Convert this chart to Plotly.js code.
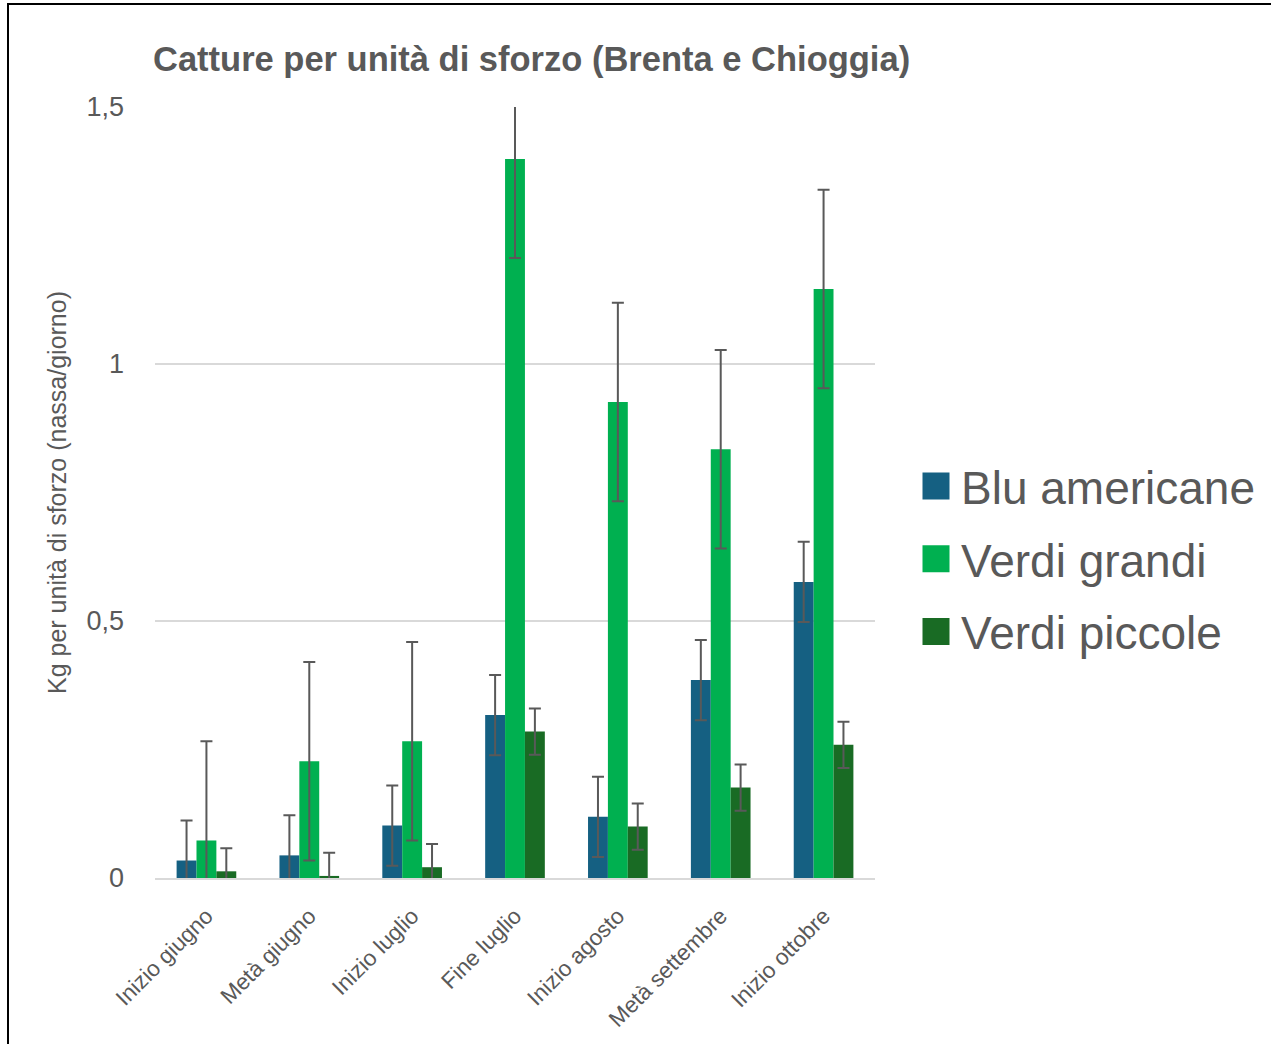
<!DOCTYPE html>
<html>
<head>
<meta charset="utf-8">
<script src="https://cdn.plot.ly/plotly-3.0.1.min.js"></script>
<style>
  html, body { margin: 0; padding: 0; background: #ffffff; overflow: hidden; }
  #frame { position: absolute; left: 7px; top: 3px; width: 1300px; height: 1100px; border: 2px solid #000; box-sizing: border-box; pointer-events: none; z-index: 5; }
  #chart { position: absolute; left: 0; top: 0; width: 1271px; height: 1044px; }
</style>
</head>
<body>
<div id="chart"></div>
<div id="frame"></div>
<script>
const categories = ["Inizio giugno", "Metà giugno", "Inizio luglio", "Fine luglio", "Inizio agosto", "Metà settembre", "Inizio ottobre"];

const seriesNames = ["Blu americane", "Verdi grandi", "Verdi piccole"];

const bluAmericane = [0.034, 0.044, 0.102, 0.317, 0.119, 0.385, 0.576];
const bluErr       = [0.078, 0.078, 0.078, 0.078, 0.078, 0.078, 0.078];

const verdiGrandi  = [0.073, 0.227, 0.266, 1.399, 0.926, 0.834, 1.146];
const grandiErr    = [0.193, 0.193, 0.193, 0.193, 0.193, 0.193, 0.193];

const verdiPiccole = [0.013, 0.004, 0.021, 0.285, 0.100, 0.176, 0.259];
const piccoleErr   = [0.045, 0.045, 0.045, 0.045, 0.045, 0.045, 0.045];

const colors = ["#156082", "#00B050", "#196B24"];
const textColor = "#595959";
const fontFam = "'Liberation Sans', Arial, sans-serif";

function barTrace(name, y, err, color, group) {
  return {
    type: "bar",
    name: name,
    x: categories,
    y: y,
    legendgroup: group,
    marker: { color: color, line: { width: 0 } },
    error_y: { type: "data", array: err, visible: true, color: "#595959", thickness: 2, width: 6 },
    hoverinfo: "x+y+name"
  };
}

const data = [
  barTrace(seriesNames[0], bluAmericane, bluErr, colors[0], "g1"),
  barTrace(seriesNames[1], verdiGrandi, grandiErr, colors[1], "g2"),
  barTrace(seriesNames[2], verdiPiccole, piccoleErr, colors[2], "g3")
];

const layout = {
  width: 1271,
  height: 1044,
  margin: { l: 155, r: 396, t: 107, b: 166, pad: 0 },
  paper_bgcolor: "#ffffff",
  plot_bgcolor: "#ffffff",
  separators: ", ",
  font: { family: fontFam, color: textColor },
  title: {
    text: "<b>Catture per unità di sforzo (Brenta e Chioggia)</b>",
    font: { family: fontFam, size: 34.5, color: textColor },
    xref: "container", x: 153 / 1271, xanchor: "left",
    yref: "container", y: 1 - 59 / 1044, yanchor: "middle"
  },
  barmode: "group",
  bargap: 0.42,
  bargroupgap: 0,
  showlegend: true,
  legend: {
    xref: "container", x: 911 / 1271, xanchor: "left",
    yref: "container", y: 1 - 559 / 1044, yanchor: "middle",
    font: { family: fontFam, size: 46, color: textColor },
    tracegroupgap: 10,
    itemwidth: 40,
    bgcolor: "rgba(0,0,0,0)"
  },
  xaxis: {
    type: "category",
    tickangle: -45,
    tickfont: { family: fontFam, size: 22.5, color: textColor },
    ticklabelstandoff: 14,
    showgrid: false,
    showline: true,
    linecolor: "#D9D9D9",
    linewidth: 2,
    ticks: "",
    zeroline: false
  },
  yaxis: {
    range: [0, 1.5],
    dtick: 0.5,
    tick0: 0,
    showgrid: true,
    gridcolor: "#D9D9D9",
    gridwidth: 1.5,
    zeroline: false,
    showline: false,
    ticks: "",
    tickfont: { family: fontFam, size: 27, color: textColor },
    ticklabelstandoff: 30,
    title: {
      text: "Kg per unità di sforzo (nassa/giorno)",
      font: { family: fontFam, size: 25, color: textColor },
      standoff: 12
    }
  }
};

Plotly.newPlot("chart", data, layout, { displayModeBar: false, staticPlot: true }).then(function (gd) {
  // enlarge the legend swatches to match the reference's big squares
  const pts = gd.querySelectorAll(".legend .legendpoints path");
  pts.forEach(function (p) {
    p.setAttribute("d", "M13.5,13.5H-13.5V-13.5H13.5Z");
  });
});
</script>
</body>
</html>
